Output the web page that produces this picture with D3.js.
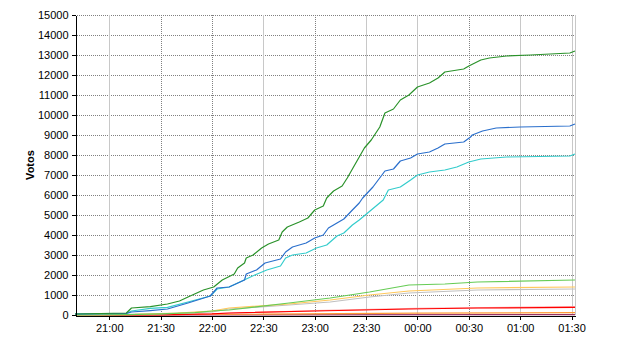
<!DOCTYPE html>
<html lang="es">
<head>
  <meta charset="utf-8">
  <title>Votos</title>
  <script src="https://cdn.jsdelivr.net/npm/d3@7"></script>
  <style>
    body {
      margin: 0;
      background: #fff;
    }

    text {
      font: 11px "Liberation Sans", Arial, sans-serif;
      fill: #000;
    }

    .grid line {
      stroke: #808080;
      stroke-dasharray: 1, 1;
      shape-rendering: crispEdges;
    }

    .grid line.solid {
      stroke: #c8c8c8;
      stroke-dasharray: none;
    }

    .axis path,
    .axis line {
      fill: none;
      stroke: #000;
      shape-rendering: crispEdges;
    }

    .serie {
      fill: none;
      stroke-width: 1.2px;
      stroke-linejoin: round;
    }
  </style>
</head>
<body>
<script>
  // series: times "HH:MM" and vote counts
  var verdeT = ["20:40", "21:10", "21:13", "21:24", "21:34", "21:41", "21:46", "21:55", "22:01", "22:06", "22:13", "22:15", "22:19", "22:20", "22:24", "22:29", "22:33", "22:39", "22:41", "22:44", "22:51", "22:56", "23:00", "23:05", "23:07", "23:11", "23:16", "23:19", "23:22", "23:26", "23:29", "23:33", "23:38", "23:41", "23:46", "23:50", "23:55", "00:00", "00:07", "00:12", "00:16", "00:27", "00:30", "00:37", "00:42", "00:52", "01:06", "01:29", "01:32"];
  var verdeV = [50, 100, 350, 420, 550, 700, 900, 1250, 1400, 1750, 2050, 2350, 2600, 2850, 3000, 3350, 3550, 3750, 4150, 4400, 4650, 4850, 5250, 5450, 5850, 6200, 6450, 6850, 7300, 7900, 8350, 8750, 9400, 10100, 10300, 10750, 11000, 11400, 11600, 11850, 12150, 12300, 12450, 12750, 12850, 12950, 13000, 13100, 13200];

  var azulT = ["20:40", "21:10", "21:13", "21:24", "21:34", "21:46", "21:59", "22:03", "22:10", "22:19", "22:20", "22:26", "22:31", "22:40", "22:43", "22:47", "22:55", "23:00", "23:05", "23:08", "23:13", "23:17", "23:22", "23:26", "23:28", "23:34", "23:41", "23:46", "23:50", "23:56", "00:00", "00:07", "00:12", "00:16", "00:27", "00:31", "00:32", "00:38", "00:46", "01:00", "01:29", "01:32"];
  var azulV = [50, 80, 150, 220, 300, 600, 950, 1350, 1400, 1750, 2050, 2250, 2600, 2800, 3150, 3400, 3600, 3850, 4000, 4350, 4600, 4800, 5250, 5600, 5850, 6400, 7200, 7300, 7700, 7850, 8050, 8150, 8350, 8550, 8650, 8900, 9000, 9200, 9350, 9400, 9450, 9550];

  var cianT = ["20:40", "21:10", "21:13", "21:24", "21:34", "21:46", "21:59", "22:03", "22:10", "22:20", "22:25", "22:32", "22:40", "22:43", "22:47", "22:55", "23:01", "23:07", "23:13", "23:17", "23:22", "23:26", "23:33", "23:40", "23:43", "23:50", "23:56", "00:00", "00:07", "00:16", "00:23", "00:30", "00:37", "00:52", "01:29", "01:32"];
  var cianV = [50, 80, 200, 330, 380, 650, 950, 1300, 1400, 1800, 2000, 2250, 2450, 2850, 3000, 3100, 3350, 3500, 3950, 4100, 4500, 4750, 5250, 5750, 6250, 6400, 6750, 7000, 7150, 7250, 7400, 7650, 7800, 7900, 7950, 8050];

  var verdeClaroT = ["20:40", "21:10", "21:30", "21:50", "22:00", "22:10", "22:45", "23:09", "23:32", "23:55", "00:16", "00:35", "01:32"];
  var verdeClaroV = [0, 20, 60, 120, 200, 250, 600, 850, 1150, 1500, 1550, 1650, 1750];

  var naranjaT = ["20:40", "21:15", "21:40", "22:00", "22:10", "22:45", "23:09", "23:32", "23:55", "00:35", "01:32"];
  var naranjaV = [0, 30, 100, 200, 350, 550, 750, 1000, 1200, 1350, 1400];

  var grisT = ["20:40", "21:30", "22:00", "22:10", "22:45", "23:09", "23:32", "23:55", "00:35", "01:32"];
  var grisV = [0, 50, 150, 300, 500, 650, 900, 1100, 1250, 1300];

  var rosaT = ["20:40", "22:00", "23:00", "00:00", "01:32"];
  var rosaV = [0, 60, 220, 330, 420];

  var rojoT = ["20:40", "21:30", "22:00", "22:10", "23:00", "23:55", "00:35", "01:32"];
  var rojoV = [0, 10, 60, 100, 200, 300, 350, 380];

  var ocreT = ["20:40", "22:30", "00:00", "01:32"];
  var ocreV = [0, 40, 90, 120];

  var moradoT = ["20:40", "01:32"];
  var moradoV = [0, 20];

  var yTicks = [0, 1000, 2000, 3000, 4000, 5000, 6000, 7000, 8000, 9000, 10000, 11000, 12000, 13000, 14000, 15000];
  var xTickLabels = ["21:00", "21:30", "22:00", "22:30", "23:00", "23:30", "00:00", "00:30", "01:00", "01:30"];
  // vertical grid lines that render as light solid lines in the original
  var solidGrid = ["21:00", "22:30", "23:30", "00:00", "01:00", "01:30"];

  function parseT(s) {
    var p = s.split(":"), h = +p[0], m = +p[1];
    return new Date(2000, 0, h < 12 ? 2 : 1, h, m);
  }

  var series = [
    { t: moradoT, v: moradoV, color: "#993366" },
    { t: ocreT, v: ocreV, color: "#ff9933" },
    { t: rosaT, v: rosaV, color: "#ffaaaa" },
    { t: rojoT, v: rojoV, color: "#ff0000" },
    { t: grisT, v: grisV, color: "#c0c0c0" },
    { t: naranjaT, v: naranjaV, color: "#ffc85a" },
    { t: verdeClaroT, v: verdeClaroV, color: "#66cc55" },
    { t: cianT, v: cianV, color: "#33cccc" },
    { t: azulT, v: azulV, color: "#2a6fcc" },
    { t: verdeT, v: verdeV, color: "#2a922a" }
  ];

  var plotLeft = 75, plotRight = 575, plotTop = 15, plotBottom = 315;

  var x = d3.scaleTime()
    .domain([parseT("20:40"), parseT("01:32")])
    .range([plotLeft, plotRight]);

  var y = d3.scaleLinear()
    .domain([0, 15000])
    .range([plotBottom, plotTop]);

  var svg = d3.select("body").append("svg")
    .attr("width", 640)
    .attr("height", 350);

  var xTicks = xTickLabels.map(parseT);

  // grid
  var grid = svg.append("g").attr("class", "grid");
  grid.selectAll(".h")
    .data(yTicks.slice(1))
    .enter().append("line")
    .attr("class", "h")
    .attr("x1", plotLeft).attr("x2", plotRight)
    .attr("y1", function(d) { return y(d) + 0.5; })
    .attr("y2", function(d) { return y(d) + 0.5; });

  grid.selectAll(".v")
    .data(xTickLabels)
    .enter().append("line")
    .attr("class", function(d) { return solidGrid.indexOf(d) >= 0 ? "v solid" : "v"; })
    .attr("x1", function(d) { return Math.round(x(parseT(d))) + 0.5; })
    .attr("x2", function(d) { return Math.round(x(parseT(d))) + 0.5; })
    .attr("y1", plotTop).attr("y2", plotBottom);

  grid.append("line")
    .attr("class", "solid")
    .attr("x1", plotRight + 0.5).attr("x2", plotRight + 0.5)
    .attr("y1", plotTop).attr("y2", plotBottom);

  // lines
  var line = d3.line()
    .x(function(d) { return x(d[0]); })
    .y(function(d) { return y(d[1]); });

  svg.selectAll(".serie")
    .data(series)
    .enter().append("path")
    .attr("class", "serie")
    .attr("stroke", function(d) { return d.color; })
    .attr("d", function(d) {
      return line(d.t.map(function(t, i) { return [parseT(t), d.v[i]]; }));
    });

  // axes
  var yAxis = d3.axisLeft(y)
    .tickValues(yTicks)
    .tickFormat(d3.format("d"))
    .tickSize(4)
    .tickPadding(3)
    .tickSizeOuter(0);

  svg.append("g")
    .attr("class", "axis")
    .attr("transform", "translate(" + (plotLeft + 0.5) + ",0)")
    .call(yAxis)
    .selectAll("text").style("font-size", "11px").style("font-family", "'Liberation Sans', Arial, sans-serif");

  var xAxis = d3.axisBottom(x)
    .tickValues(xTicks)
    .tickFormat(d3.timeFormat("%H:%M"))
    .tickSize(4)
    .tickPadding(5)
    .tickSizeOuter(0);

  svg.append("g")
    .attr("class", "axis")
    .attr("transform", "translate(0," + (plotBottom + 0.5) + ")")
    .call(xAxis)
    .selectAll("text").style("font-size", "11px").style("font-family", "'Liberation Sans', Arial, sans-serif");

  svg.append("text")
    .attr("transform", "translate(34," + ((plotTop + plotBottom) / 2) + ") rotate(-90)")
    .attr("text-anchor", "middle")
    .style("font-weight", "bold")
    .text("Votos");
</script>
</body>
</html>
